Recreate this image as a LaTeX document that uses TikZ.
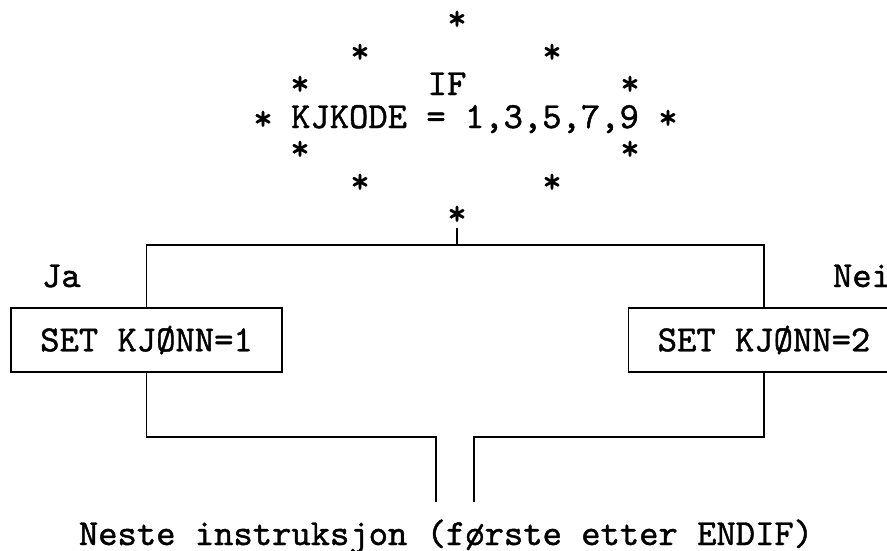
\documentclass[tikz,border=0pt]{standalone}
\usepackage{fontspec}
% typewriter face, slightly emboldened
\setmonofont{lmmono10-regular.otf}[FakeBold=1.2]
\begin{document}
\begin{tikzpicture}[x=1pt,y=1pt,
    every node/.style={inner sep=0pt, outer sep=0pt},
    mono/.style={font=\fontsize{36.8}{40}\ttfamily, anchor=base},
    starmark/.style={font=\fontsize{36.8}{40}\ttfamily, anchor=base, yshift=-13pt},
    flow/.style={line width=1.6pt},
    stepbox/.style={draw, line width=1.6pt, minimum width=271pt, minimum height=64pt,
                    font=\fontsize{36.8}{40}\ttfamily}]
  \useasboundingbox (0,0) rectangle (887,-550);

  % decision drawn as a diamond of asterisks
  \node[starmark] (s1)  at (457,-17)  {*};
  \node[starmark] (s2)  at (360,-50)  {*};
  \node[starmark] (s3)  at (552,-50)  {*};
  \node[starmark] (s4)  at (300,-82)  {*};
  \node[starmark] (s5)  at (630,-82)  {*};
  \node[starmark] (s6)  at (263,-117) {*};
  \node[starmark] (s7)  at (668,-116) {*};
  \node[starmark] (s8)  at (300,-147) {*};
  \node[starmark] (s9)  at (630,-147) {*};
  \node[starmark] (s10) at (360,-180) {*};
  \node[starmark] (s11) at (552,-180) {*};
  \node[starmark] (s12) at (457,-212) {*};

  \node[mono] (ifkw) at (447,-95)  {IF};
  \node[mono] (cond) at (465,-128) {KJKODE = 1,3,5,7,9};

  % branch labels
  \node[mono, anchor=base west] (ja)  at (42,-287)  {Ja};
  \node[mono, anchor=base west] (nei) at (833,-287) {Nei};

  % branch actions
  \node[stepbox] (b1) at (146.5,-340) {SET KJØNN=1};
  \node[stepbox] (b2) at (764,-340)   {SET KJØNN=2};

  % junction points
  \coordinate (tick)  at (457,-228);
  \coordinate (split) at (457,-245);
  \coordinate (jl)    at (436,-502);
  \coordinate (jr)    at (474,-502);

  \draw[flow] (tick) -- (split);
  \draw[flow] (b1.north) |- (split) -| (b2.north);
  \draw[flow] (b1.south) |- (jl |- 0,-437) -- (jl);
  \draw[flow] (b2.south) |- (jr |- 0,-437) -- (jr);

  \node[mono] (next) at (446,-545) {Neste instruksjon (første etter ENDIF)};
\end{tikzpicture}
\end{document}
